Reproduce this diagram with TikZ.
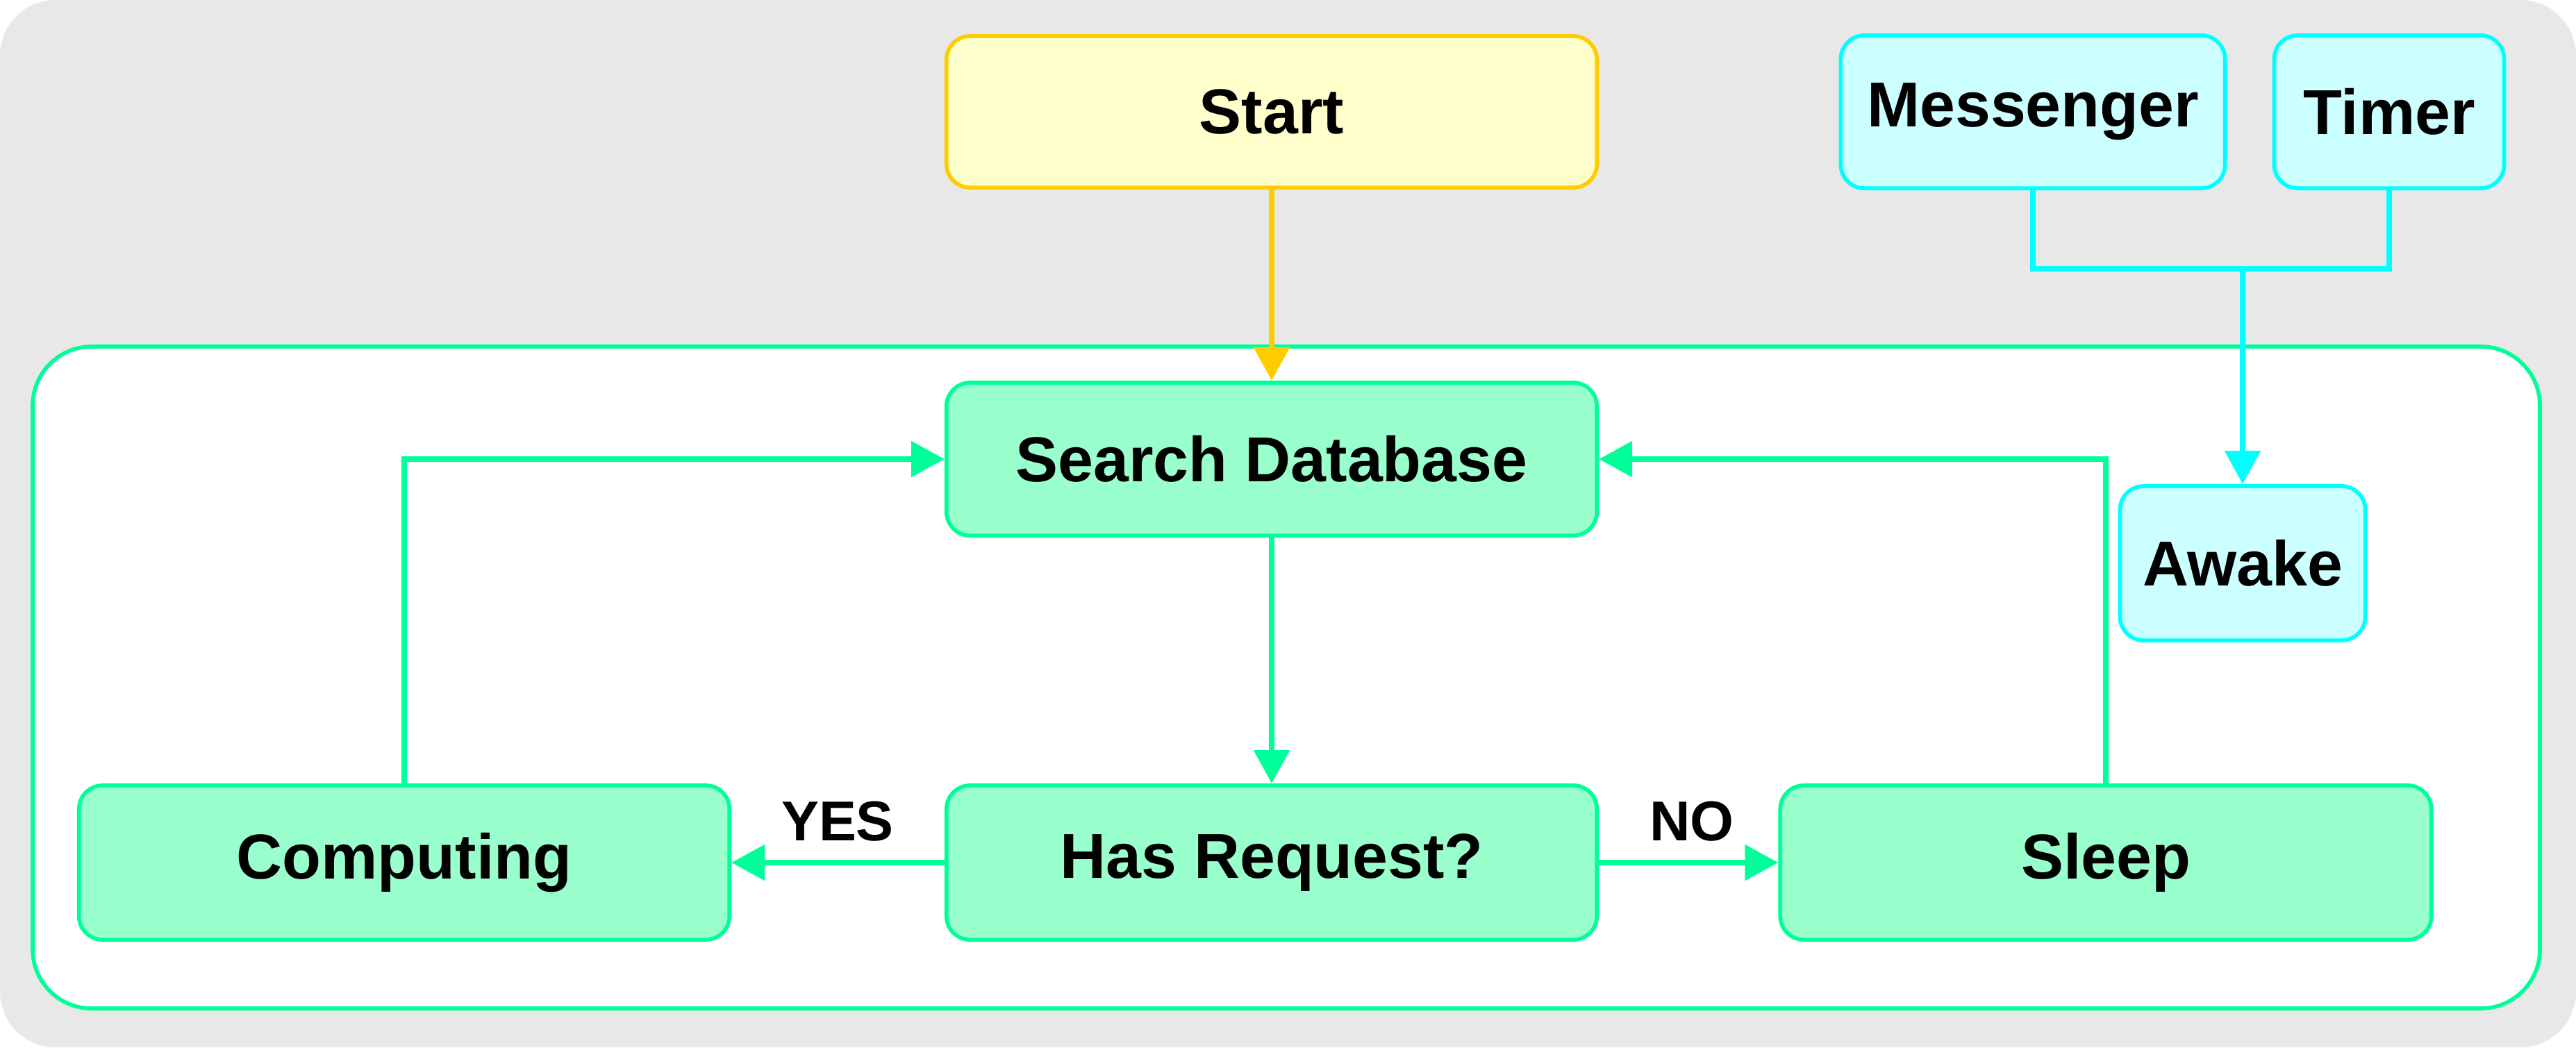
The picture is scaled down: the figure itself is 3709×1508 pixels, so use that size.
\documentclass[tikz,border=0pt]{standalone}
\usepackage{fontspec}
\setmainfont{Liberation Sans}
\usetikzlibrary{arrows.meta}
\definecolor{bggray}{HTML}{E8E8E8}
\definecolor{grfill}{HTML}{99FFCC}
\definecolor{grline}{HTML}{00FF99}
\definecolor{cyfill}{HTML}{CCFFFF}
\definecolor{cyline}{HTML}{00FFFF}
\definecolor{yefill}{HTML}{FFFFCC}
\definecolor{yeline}{HTML}{FFCC00}
\tikzset{
  box/.style={rectangle, rounded corners=0.34cm, line width=1.6pt, inner sep=0pt,
    font=\fontsize{26}{30}\selectfont\bfseries, text=black},
  greenbox/.style={box, draw=grline, fill=grfill},
  cyanbox/.style={box, draw=cyline, fill=cyfill},
  yellowbox/.style={box, draw=yeline, fill=yefill},
  conn/.style={line width=2.5pt, -{Triangle[length=0.48cm,width=0.5cm]}},
  lbl/.style={font=\fontsize{23}{27}\selectfont\bfseries, inner sep=0pt}
}
\begin{document}
\begin{tikzpicture}[x=0.01cm,y=-0.01cm]
\useasboundingbox (0,0) rectangle (3709,1508);
\fill[bggray, rounded corners=0.8cm] (0,0) rectangle (3709,1508);
\draw[grline, fill=white, line width=1.6pt, rounded corners=0.85cm] (47,499) rectangle (3657,1452);

\node[yellowbox, minimum width=9.36cm, minimum height=2.18cm] (start) at (1831,161) {Start};
\node[cyanbox, minimum width=5.53cm, minimum height=2.20cm] (mess) at (2927,161) {Messenger};
\node[cyanbox, minimum width=3.31cm, minimum height=2.20cm] (timer) at (3440,161) {Timer};
\node[greenbox, minimum width=9.36cm, minimum height=2.20cm] (search) at (1831,661) {Search Database};
\node[cyanbox, minimum width=3.53cm, minimum height=2.22cm] (awake) at (3229,811) {Awake};
\node[greenbox, minimum width=9.36cm, minimum height=2.22cm] (has) at (1831,1242) {Has Request?};
\node[greenbox, minimum width=9.36cm, minimum height=2.22cm] (comp) at (582,1242) {Computing};
\node[greenbox, minimum width=9.37cm, minimum height=2.22cm] (sleep) at (3032,1242) {Sleep};

\coordinate (jn) at (3229,387);

\draw[conn, draw=yeline] (start.south) -- (search.north);
\draw[conn, draw=grline] (search.south) -- (has.north);
\draw[conn, draw=grline] (has.west) -- (comp.east);
\draw[conn, draw=grline] (has.east) -- (sleep.west);
\draw[conn, draw=grline] (comp.north) |- (search.west);
\draw[conn, draw=grline] (sleep.north) |- (search.east);
\draw[line width=2.5pt, cyline] (mess.south) |- (jn) -| (timer.south);
\draw[conn, draw=cyline] (jn) -- (awake.north);

\node[lbl] (yes) at (1206,1183) {YES};
\node[lbl] (no) at (2436,1183) {NO};
\end{tikzpicture}
\end{document}
